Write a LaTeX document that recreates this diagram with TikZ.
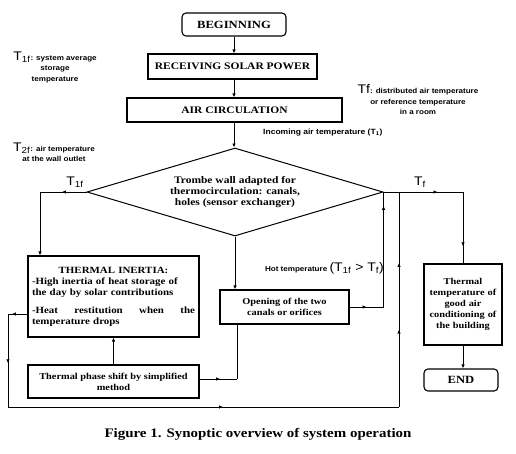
\documentclass[tikz,border=0pt]{standalone}
\usepackage{fontspec}
\setmainfont{Liberation Serif}[FakeStretch=1.15]
\setsansfont{Liberation Sans}[FakeStretch=1.12]
\usetikzlibrary{shapes.geometric,arrows.meta,decorations.markings}

\begin{document}
\begin{tikzpicture}[x=1pt,y=-1pt,
  every node/.style={inner sep=1pt},
  term/.style={draw,line width=1.1pt,rounded corners=4pt,font=\fontsize{11}{12}\selectfont\bfseries},
  proc/.style={draw,line width=1.1pt,align=center,font=\fontsize{9}{11}\selectfont\bfseries},
  cond/.style={draw,line width=1pt,diamond,aspect=3.36,align=center,inner sep=0pt,font=\fontsize{10}{11}\selectfont\bfseries},
  note/.style={align=center,font=\fontsize{7.2}{10.5}\selectfont\sffamily\bfseries},
  tlab/.style={font=\fontsize{12.5}{13}\selectfont\sffamily},
  flow/.style={line width=0.9pt},
  tip/.style={flow,-{Latex[length=4pt,width=3.5pt]}},
  arrowat/.style={flow,postaction={decorate,decoration={markings,
    mark=at position #1 with {\arrow{Latex[length=4pt,width=3.5pt]}}}}}]
  \useasboundingbox (0,0) rectangle (516,453);

  % main column
  \node[term,minimum width=104pt,minimum height=23pt] (begin) at (234,24.5) {BEGINNING};
  \node[proc,minimum width=169pt,minimum height=25pt] (solar) at (232.5,66.5) {\fontsize{10}{12}\selectfont RECEIVING SOLAR POWER};
  \node[proc,minimum width=215pt,minimum height=24pt] (air) at (234.5,110) {\fontsize{10}{12}\selectfont AIR CIRCULATION};
  \node[cond,minimum width=296pt,minimum height=88pt] (trombe) at (235,192)
    {Trombe wall adapted for\\thermocirculation: canals,\\holes (sensor exchanger)};
  \node[proc,align=left,text width=163pt,inner sep=4pt,minimum height=81pt,
    font=\fontsize{9.5}{11}\selectfont\bfseries] (inertia) at (113.5,296.5)
    {\hfill THERMAL INERTIA:\hfill\null\\
     -High inertia of heat storage of\\
     the day by solar contributions\\[7pt]
     -Heat\hfill restitution\hfill when\hfill the\\
     temperature drops};
  \node[proc,minimum width=129pt,minimum height=34pt] (opening) at (284.5,307)
    {Opening of the two\\canals or orifices};
  \node[proc,minimum width=171pt,minimum height=33pt] (phase) at (113.5,381.5)
    {Thermal phase shift by simplified\\method};
  \node[proc,text width=76pt,minimum height=81pt] (comfort) at (463,304.5)
    {Thermal\\temperature of\\good air\\conditioning of\\the building};
  \node[term,minimum width=74pt,minimum height=22pt] (end) at (461,380) {END};

  % labels
  \node[note] (n1f) at (55,67) {{\fontsize{12.5}{12}\selectfont\mdseries T\textsubscript{1f}}: system average\\storage\\temperature};
  \node[note] (n2f) at (54,152) {{\fontsize{12.5}{12}\selectfont\mdseries T\textsubscript{2f}}: air temperature\\at the wall outlet};
  \node[note] (nf) at (418,100) {{\fontsize{12.5}{12}\selectfont\mdseries Tf}: distributed air temperature\\or reference temperature\\in a room};
  \node[note,anchor=west,font=\fontsize{7.6}{9}\selectfont\sffamily\bfseries] (incoming) at (262,133)
    {Incoming air temperature (T\textsubscript{1})};
  \node[tlab] (t1f) at (75,182) {T\textsubscript{1f}};
  \node[tlab] (tf) at (420,182) {T\textsubscript{f}};
  \node[anchor=east,inner sep=0pt] (hot) at (384,268)
    {\fontsize{7.2}{8}\selectfont\sffamily\bfseries Hot temperature \fontsize{12.5}{13}\selectfont\mdseries(T\textsubscript{1f} > T\textsubscript{f})};
  \node[font=\fontsize{13}{14}\selectfont\bfseries] (caption) at (258,434)
    {Figure 1. Synoptic overview of system operation};

  % turning points
  \coordinate (c1) at (40,192);
  \coordinate (c2) at (8,314);
  \coordinate (c3) at (8,407);
  \coordinate (c4) at (399,407);
  \coordinate (c5) at (trombe.east |- opening.east);
  \coordinate (c6) at (463,192);
  \coordinate (c7) at (237,379);

  % connectors
  \draw[tip] (begin.south) -- (begin.south |- solar.north);
  \draw[tip] (begin.south |- solar.south) -- (begin.south |- air.north);
  \draw[tip] (begin.south |- air.south) -- (begin.south |- trombe.north);
  \draw[arrowat=0.53] (trombe.west) -- (c1);
  \draw[tip] (c1) -- (c1 |- inertia.north);
  \draw[tip] (trombe.south) -- (trombe.south |- opening.north);
  \draw[arrowat=0.5] (opening.east) -- (c5);
  \draw[arrowat=0.88] (c5) -- (trombe.east);
  \draw[arrowat=0.68] (trombe.east) -- (c6);
  \draw[arrowat=0.76] (c6) -- (comfort.north);
  \draw[tip] (comfort.south) -- (comfort.south |- end.north);
  \draw[tip] (phase.north) -- (inertia.south);
  \draw[arrowat=0.55] (phase.east |- c7) -- (c7);
  \draw[flow] (c7) -- (c7 |- opening.south);
  \draw[arrowat=0.8] (inertia.west |- c2) -- (c2);
  \draw[arrowat=0.53] (c2) -- (c3);
  \draw[arrowat=0.55] (c3) -- (c4);
  \draw[arrowat=0.36,arrowat=0.67] (c4) -- (c4 |- c6);
\end{tikzpicture}
\end{document}
